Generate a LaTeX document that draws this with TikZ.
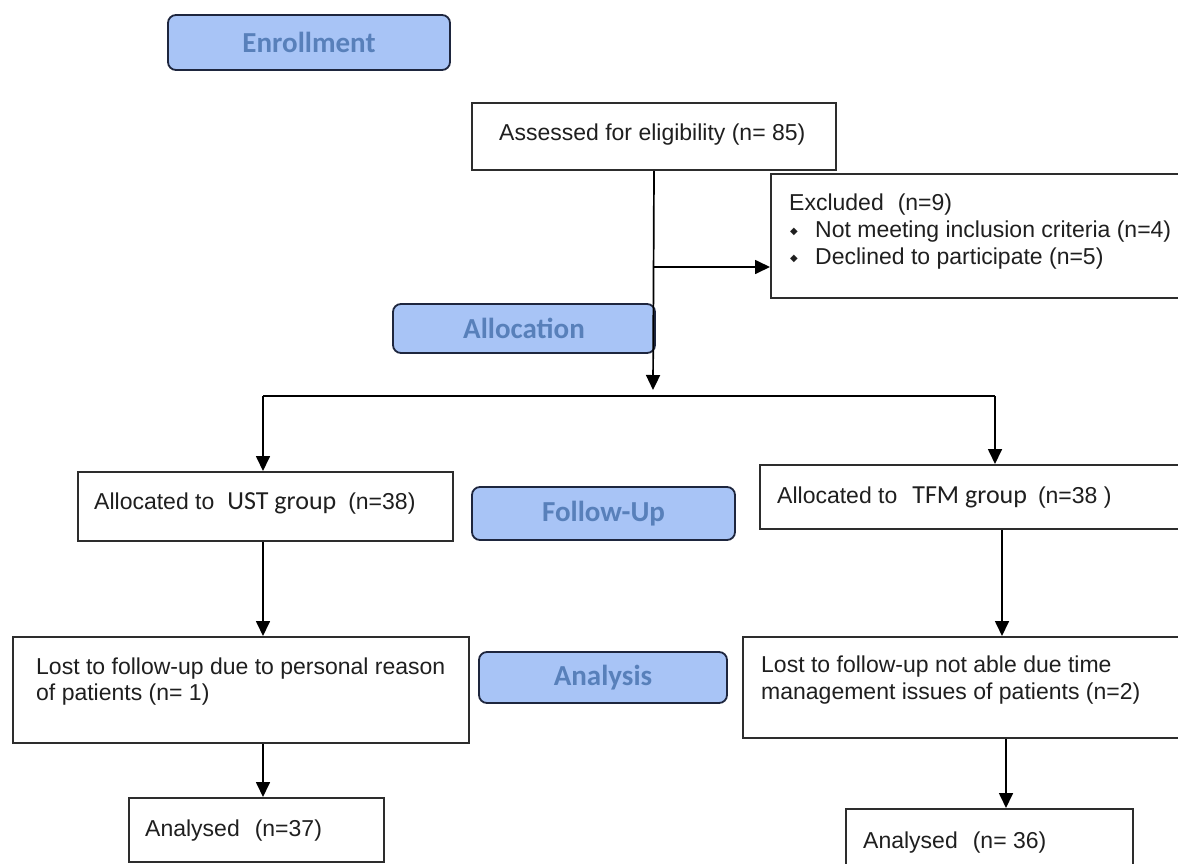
\documentclass[tikz,border=0pt]{standalone}
\usepackage{fontspec}
\setmainfont{Liberation Sans}
\newfontfamily\carlito{Carlito}
\newfontfamily\dejavu{DejaVu Sans}
\usetikzlibrary{arrows.meta}
\definecolor{stagefill}{RGB}{168,196,246}
\definecolor{stagetext}{RGB}{88,128,186}
\definecolor{stageline}{RGB}{30,38,62}
\definecolor{boxline}{RGB}{45,45,45}
\newcommand{\bul}{\makebox[26pt][l]{\hspace{1pt}\raisebox{3pt}{\dejavu\fontsize{10}{10}\selectfont ◆}}}
\newcommand{\grp}[1]{{\carlito\fontsize{26}{26}\selectfont #1}}
\begin{document}
\begin{tikzpicture}[x=1pt,y=-1pt,
  stage/.style={draw=stageline, line width=1.8pt, fill=stagefill, rounded corners=8pt,
    text=stagetext, font=\carlito\bfseries\fontsize{29}{30}\selectfont, inner sep=0pt},
  box/.style={draw=boxline, line width=2pt, fill=white, inner sep=0pt, anchor=north west},
  txt/.style={inner sep=0pt, font=\fontsize{23}{26.5}\selectfont, text=black!88},
  arr/.style={line width=1.7pt, -{Triangle[length=15pt,width=14pt]}},
  ln/.style={line width=1.7pt}]
\useasboundingbox (0,0) rectangle (1178,863);
\fill[white] (0,0) rectangle (1178,863);

% stage labels
\node[stage, minimum width=282pt, minimum height=55pt] (enr) at (309,42.5) {Enrollment};
\node[stage, minimum width=262pt, minimum height=49pt] (alloc) at (524,328.5) {Allocation};
\node[stage, minimum width=263pt, minimum height=53pt] (fup) at (603.5,513.5) {Follow-Up};
\node[stage, minimum width=248pt, minimum height=51pt] (ana) at (603,677.5) {Analysis};

% boxes
\node[box, minimum width=364pt, minimum height=67pt] (assess) at (471,102) {};
\node[box, minimum width=420pt, minimum height=124pt] (excl) at (770,173) {};
\node[box, minimum width=375pt, minimum height=69pt] (ust) at (77,471) {};
\node[box, minimum width=430pt, minimum height=64pt] (tfm) at (759,464) {};
\node[box, minimum width=456pt, minimum height=106pt] (lost1) at (12,636) {};
\node[box, minimum width=450pt, minimum height=101pt] (lost2) at (742,636) {};
\node[box, minimum width=255pt, minimum height=64pt] (an1) at (128,797) {};
\node[box, minimum width=287pt, minimum height=70pt] (an2) at (845,808) {};

% texts
\node[txt, anchor=base west] (tassess) at (499,140) {Assessed for eligibility (n= 85)};
\node[txt, anchor=north west, align=left, font=\fontsize{23}{27}\selectfont] (texcl) at (789,194)
  {Excluded\hspace{14pt}(n=9)\\\bul Not meeting inclusion criteria (n=4)\\\bul Declined to participate (n=5)};
\node[txt, anchor=base west] (tust) at (94,509) {Allocated to\hspace{13pt}\grp{UST group}\hspace{12pt}(n=38)};
\node[txt, anchor=base west] (ttfm) at (777,503) {Allocated to\hspace{15pt}\grp{TFM group}\hspace{11pt}(n=38 )};
\node[txt, anchor=north west, align=left, font=\fontsize{23}{26}\selectfont] (tlost1) at (36,658)
  {Lost to follow-up due to personal reason\\of patients (n= 1)};
\node[txt, anchor=north west, align=left, font=\fontsize{23}{27}\selectfont] (tlost2) at (761,656)
  {Lost to follow-up not able due time\\management issues of patients (n=2)};
\node[txt, anchor=base west] (tan1) at (145,836) {Analysed\hspace{15pt}(n=37)};
\node[txt, anchor=base west] (tan2) at (863,848) {Analysed\hspace{15pt}(n= 36)};

% connectors
\coordinate (tip) at (653,390);
\coordinate (exj) at (653,267);
\coordinate (lj) at (263,396);
\coordinate (rj) at (995,396);
\coordinate (rx2) at (1002,0);
\coordinate (rx3) at (1006,0);
\draw[arr] (assess.south) -- (tip);
\draw[arr] (exj) -- (excl.west |- exj);
\draw[ln] (lj) -- (rj);
\draw[arr] (lj) -- (lj |- ust.north);
\draw[arr] (rj) -- (rj |- tfm.north);
\draw[arr] (lj |- ust.south) -- (lj |- lost1.north);
\draw[arr] (lj |- lost1.south) -- (lj |- an1.north);
\draw[arr] (rx2 |- tfm.south) -- (rx2 |- lost2.north);
\draw[arr] (rx3 |- lost2.south) -- (rx3 |- an2.north);
\end{tikzpicture}
\end{document}
